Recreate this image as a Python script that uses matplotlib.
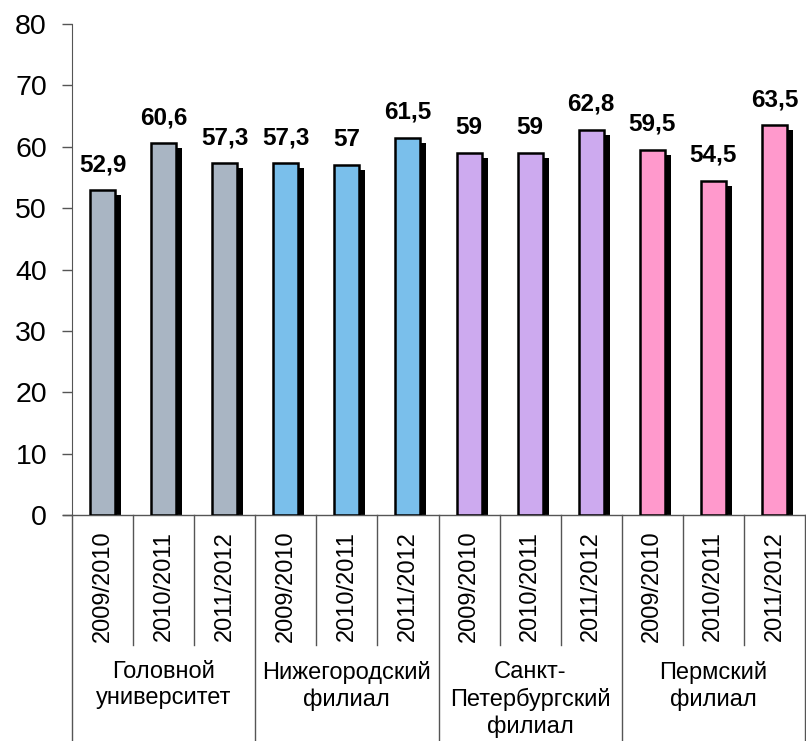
import numpy as np
import matplotlib.pyplot as plt
from matplotlib.transforms import blended_transform_factory

plt.rcParams['font.family'] = ['Liberation Sans', 'DejaVu Sans']

years = ['2009/2010', '2010/2011', '2011/2012']
groups = ['Головной\nуниверситет', 'Нижегородский\nфилиал',
          'Санкт-\nПетербургский\nфилиал', 'Пермский\nфилиал']
values = [52.9, 60.6, 57.3,
          57.3, 57.0, 61.5,
          59.0, 59.0, 62.8,
          59.5, 54.5, 63.5]
labels = ['52,9', '60,6', '57,3', '57,3', '57', '61,5',
          '59', '59', '62,8', '59,5', '54,5', '63,5']
group_colors = ['#A9B5C3', '#7ABFEB', '#CDAAEF', '#FF99CC']

W, H = 806, 741
fig = plt.figure(figsize=(W / 100, H / 100), dpi=100)
ax = fig.add_axes([72 / W, 1 - 515 / H, 733 / W, 491 / H])

n = len(values)
x = np.arange(n) + 0.5
colors = [group_colors[i // 3] for i in range(n)]
bw = 0.41
dx = 6 / 61.1
dy = 5 / 6.14

ax.bar(x + dx, np.array(values) - dy, width=bw, color='black', zorder=2)
ax.bar(x, values, width=bw, color=colors, edgecolor='black', linewidth=1.8, zorder=3)

for xi, v, lab in zip(x, values, labels):
    ax.annotate(lab, (xi, v), xytext=(0, 10), textcoords='offset points',
                ha='center', va='bottom', fontsize=17.5, fontweight='bold')

ax.set_xlim(0, n)
ax.set_ylim(0, 80)
ax.set_yticks(range(0, 81, 10))
ax.tick_params(axis='y', labelsize=20.5, length=7, width=1, pad=11, color='#555555')
ax.set_xticks([])
for s in ['top', 'right']:
    ax.spines[s].set_visible(False)
ax.spines['bottom'].set_visible(False)
ax.spines['left'].set_color('#555555')

# two-level category axis
tr = blended_transform_factory(ax.transData, ax.transAxes)
ax.plot([-0.15, n], [0, 0], transform=tr, color='#555555', lw=1, clip_on=False)
for i in range(n + 1):
    low = -0.46 if i % 3 == 0 else -0.265
    ax.plot([i, i], [0, low], transform=tr, color='#555555', lw=1, clip_on=False)
for i, xi in enumerate(x):
    ax.text(xi, -0.145, years[i % 3], transform=tr, rotation=90,
            ha='center', va='center', fontsize=17)
for g, name in enumerate(groups):
    ax.text(3 * g + 1.5, -0.298, name, transform=tr, ha='center', va='top',
            fontsize=17, linespacing=1.24)

fig.savefig('out.png', dpi=100)
